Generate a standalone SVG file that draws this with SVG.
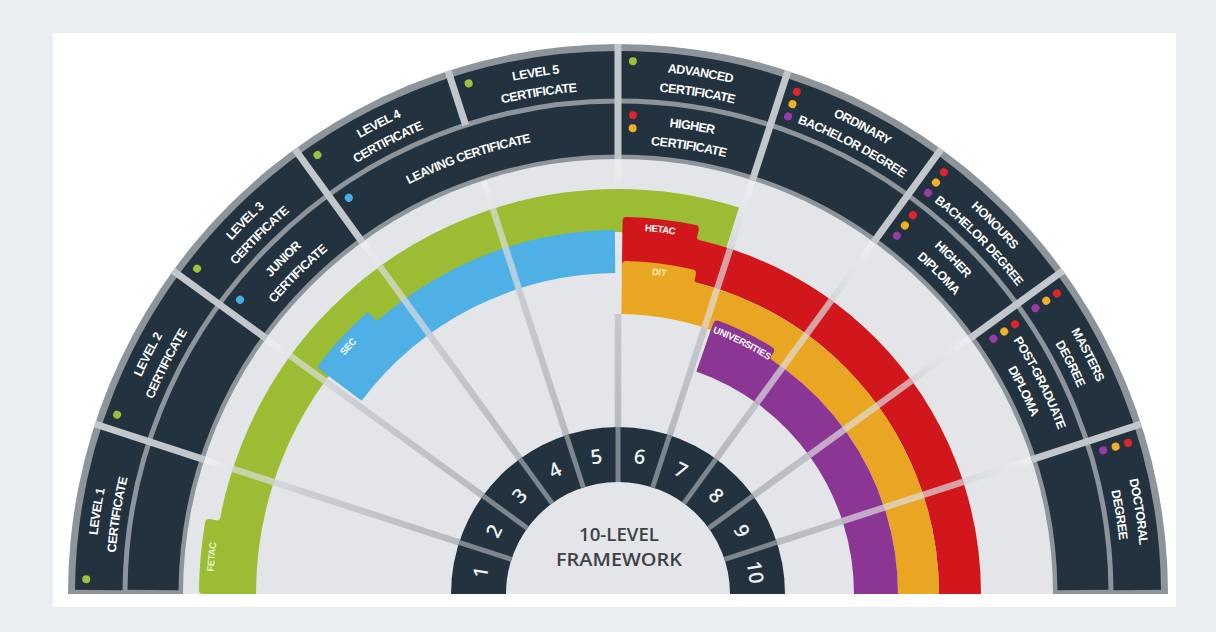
<svg xmlns="http://www.w3.org/2000/svg" width="1216" height="632" viewBox="0 0 1216 632">
<defs>
<style>
.lbl{font-family:"Liberation Sans",Arial,sans-serif;font-weight:bold;font-size:12.5px;fill:#ffffff;letter-spacing:-0.55px}
.tabl{font-family:"Liberation Sans",Arial,sans-serif;font-weight:bold;font-size:9.5px;fill:#ffffff;letter-spacing:-0.3px}
.num{font-family:"Open Sans","Liberation Sans",sans-serif;font-weight:600;font-size:20px;fill:#eef0f2}
.ctr{font-family:"Open Sans","Liberation Sans",sans-serif;font-weight:600;font-size:18px;fill:#3b4248}
.div{stroke:#c3c7cb;stroke-width:7}
.spoke{stroke:url(#sg);stroke-width:6.5}
.ov{stroke:#dcdde0;stroke-opacity:0.7;stroke-width:6.5}
.idiv{stroke:#7d868d;stroke-width:5}
.dg{fill:#9cc23a}.db{fill:#4aaee6}.dr{fill:#e0242a}.do{fill:#f0b02a}.dp{fill:#9a3aa8}
</style>
<radialGradient id="sg" gradientUnits="userSpaceOnUse" cx="618" cy="594" r="434">
<stop offset="0.38" stop-color="#b6babf"/>
<stop offset="0.75" stop-color="#cacdd1"/>
<stop offset="1" stop-color="#eceef0"/>
</radialGradient>
<path id="a524" d="M94 594A524 524 0 0 1 1142 594"/>
<path id="a504" d="M114 594A504 504 0 0 1 1122 594"/>
<path id="a470" d="M148 594A470 470 0 0 1 1088 594"/>
<path id="a450" d="M168 594A450 450 0 0 1 1068 594"/>
<path id="a460" d="M158 594A460 460 0 0 1 1078 594"/>
<path id="a405" d="M213 594A405 405 0 0 1 1023 594"/>
<path id="a363" d="M255 594A363 363 0 0 1 981 594"/>
<path id="a364" d="M254 594A364 364 0 0 1 982 594"/>
<path id="a321" d="M297 594A321 321 0 0 1 939 594"/>
<path id="a278" d="M340 594A278 278 0 0 1 896 594"/>
</defs>

<g id="background">
<rect x="0" y="0" width="1216" height="632" fill="#ebeef1"/>
<rect x="53" y="33" width="1123" height="574" fill="#ffffff"/>
</g>

<g id="outer-ring">
<path d="M68 594A550 550 0 0 1 1168 594Z" fill="#8d949a"/>
<path d="M98.75 594A519.25 519.25 0 0 1 1137.25 594" pathLength="180" fill="none" stroke="#22323e" stroke-width="47.5" stroke-dasharray="179.1 200" stroke-dashoffset="-0.45"/>
<path d="M153 594A465 465 0 0 1 1083 594" pathLength="180" fill="none" stroke="#22323e" stroke-width="51" stroke-dasharray="179 200" stroke-dashoffset="-0.5"/>
<path d="M183 594A435 435 0 0 1 1053 594Z" fill="#e4e5e8"/>
<g class="div">
<line x1="183" y1="594" x2="68" y2="594" transform="rotate(18 618 594)"/>
<line x1="183" y1="594" x2="68" y2="594" transform="rotate(36 618 594)"/>
<line x1="183" y1="594" x2="68" y2="594" transform="rotate(54 618 594)"/>
<line x1="125" y1="594" x2="68" y2="594" transform="rotate(72 618 594)"/>
<line x1="183" y1="594" x2="68" y2="594" transform="rotate(90 618 594)"/>
<line x1="183" y1="594" x2="68" y2="594" transform="rotate(108 618 594)"/>
<line x1="183" y1="594" x2="68" y2="594" transform="rotate(126 618 594)"/>
<line x1="183" y1="594" x2="68" y2="594" transform="rotate(144 618 594)"/>
<line x1="183" y1="594" x2="68" y2="594" transform="rotate(162 618 594)"/>
</g>
</g>

<g id="connectors">
<g class="spoke">
<line x1="451" y1="594" x2="184" y2="594" transform="rotate(18 618 594)"/>
<line x1="451" y1="594" x2="184" y2="594" transform="rotate(36 618 594)"/>
<line x1="451" y1="594" x2="184" y2="594" transform="rotate(54 618 594)"/>
<line x1="451" y1="594" x2="184" y2="594" transform="rotate(72 618 594)"/>
<line x1="451" y1="594" x2="338" y2="594" transform="rotate(90 618 594)"/>
<line x1="213" y1="594" x2="184" y2="594" transform="rotate(90 618 594)"/>
<line x1="451" y1="594" x2="184" y2="594" transform="rotate(108 618 594)"/>
<line x1="451" y1="594" x2="184" y2="594" transform="rotate(126 618 594)"/>
<line x1="451" y1="594" x2="184" y2="594" transform="rotate(144 618 594)"/>
<line x1="451" y1="594" x2="184" y2="594" transform="rotate(162 618 594)"/>
</g>
</g>

<g id="band-fetac">
<path d="M234.5 594A383.5 383.5 0 0 1 1001.5 594" pathLength="180" fill="none" stroke="#9cbc34" stroke-width="43" stroke-dasharray="107.4 200"/>
<path d="M618 191L618 179Q618 175 622 175A419 419 0 0 1 689.70 181.18Q693.64 181.88 692.92 185.82L691.65 192.70Q691.11 195.65 694.06 196.20L693.68 198.17A403 403 0 0 0 618 191Z" fill="#9cbc34" transform="rotate(-90 618 594)"/>
</g>
<g id="band-sec">
<path d="M275.5 594A342.5 342.5 0 0 1 960.5 594" pathLength="180" fill="none" stroke="#4eb0e5" stroke-width="43" stroke-dasharray="52.5 200" stroke-dashoffset="-37"/>
<path d="M618 232L618 221Q618 217 622 217A377 377 0 0 1 689.24 223.79Q693.16 224.57 692.37 228.49L691.17 234.37Q690.57 237.31 693.50 237.92L693.09 239.87A362 362 0 0 0 618 232Z" fill="#4eb0e5" transform="rotate(-53 618 594)"/>
</g>
<g id="band-hetac">
<path d="M276 594A342 342 0 0 1 960 594" pathLength="180" fill="none" stroke="#d1171c" stroke-width="42" stroke-dasharray="89.3 200" stroke-dashoffset="-90.7"/>
<path d="M618 233L618 221Q618 217 622 217A377 377 0 0 1 691.18 224.17Q695.10 224.97 694.28 228.88L692.85 235.73Q692.23 238.67 695.17 239.30L694.74 241.25A361 361 0 0 0 618 233Z" fill="#d1171c" transform="rotate(0.7 618 594)"/>
</g>
<g id="band-dit">
<path d="M317.5 594A300.5 300.5 0 0 1 918.5 594" pathLength="180" fill="none" stroke="#e9a622" stroke-width="41" stroke-dasharray="89.3 200" stroke-dashoffset="-90.7"/>
<path d="M618 275L618 265Q618 261 622 261A333 333 0 0 1 689.01 268.66Q692.91 269.53 692.01 273.43L690.88 278.30Q690.21 281.23 693.13 281.92L692.66 283.86A319 319 0 0 0 618 275Z" fill="#e9a622" transform="rotate(0.7 618 594)"/>
</g>
<g id="band-universities">
<path d="M360 594A258 258 0 0 1 876 594" pathLength="180" fill="none" stroke="#8b3594" stroke-width="44" stroke-dasharray="70.6 200" stroke-dashoffset="-109.4"/>
<path d="M618 316L618 307Q618 303 622 303A291 291 0 0 1 681.54 310.02Q685.44 310.92 684.51 314.81L683.59 318.70Q682.89 321.62 685.80 322.33L685.32 324.27A278 278 0 0 0 618 316Z" fill="#8b3594" transform="rotate(19.4 618 594)"/>
</g>

<g id="spoke-overlays" class="ov">
<line x1="256" y1="594" x2="213" y2="594" transform="rotate(18 618 594)"/>
<line x1="256" y1="594" x2="213" y2="594" transform="rotate(36 618 594)"/>
<line x1="297" y1="594" x2="213" y2="594" transform="rotate(54 618 594)"/>
<line x1="297" y1="594" x2="213" y2="594" transform="rotate(72 618 594)"/>
<line x1="338" y1="594" x2="255" y2="594" transform="rotate(108 618 594)"/>
<line x1="382" y1="594" x2="255" y2="594" transform="rotate(126 618 594)"/>
<line x1="382" y1="594" x2="255" y2="594" transform="rotate(144 618 594)"/>
<line x1="382" y1="594" x2="255" y2="594" transform="rotate(162 618 594)"/>
</g>

<g id="band-labels">
<text class="tabl" text-anchor="middle" style="fill:#eef2cf" transform="rotate(-84.8 618 594)"><textPath href="#a405" startOffset="50%">FETAC</textPath></text>
<text class="tabl" text-anchor="middle" transform="rotate(-47.5 618 594)"><textPath href="#a363" startOffset="50%">SEC</textPath></text>
<text class="tabl" text-anchor="middle" transform="rotate(6.6 618 594)"><textPath href="#a364" startOffset="50%">HETAC</textPath></text>
<text class="tabl" text-anchor="middle" style="fill:#fbebb8" transform="rotate(7.3 618 594)"><textPath href="#a321" startOffset="50%">DIT</textPath></text>
<text class="tabl" text-anchor="middle" transform="rotate(26.3 618 594)"><textPath href="#a278" startOffset="50%">UNIVERSITIES</textPath></text>
</g>

<g id="level-1-certificate">
<circle class="dg" cx="86" cy="594" r="4" transform="rotate(1.6 618 594)"/>
<text class="lbl" text-anchor="middle" transform="rotate(-81 618 594)"><textPath href="#a524" startOffset="50%">LEVEL 1</textPath></text>
<text class="lbl" text-anchor="middle" transform="rotate(-81 618 594)"><textPath href="#a504" startOffset="50%">CERTIFICATE</textPath></text>
</g>
<g id="level-2-certificate">
<circle class="dg" cx="86" cy="594" r="4" transform="rotate(19.7 618 594)"/>
<text class="lbl" text-anchor="middle" transform="rotate(-63 618 594)"><textPath href="#a524" startOffset="50%">LEVEL 2</textPath></text>
<text class="lbl" text-anchor="middle" transform="rotate(-63 618 594)"><textPath href="#a504" startOffset="50%">CERTIFICATE</textPath></text>
</g>
<g id="level-3-certificate">
<circle class="dg" cx="86" cy="594" r="4" transform="rotate(37.7 618 594)"/>
<text class="lbl" text-anchor="middle" transform="rotate(-45 618 594)"><textPath href="#a524" startOffset="50%">LEVEL 3</textPath></text>
<text class="lbl" text-anchor="middle" transform="rotate(-45 618 594)"><textPath href="#a504" startOffset="50%">CERTIFICATE</textPath></text>
</g>
<g id="junior-certificate">
<circle class="db" cx="139" cy="594" r="4" transform="rotate(37.9 618 594)"/>
<text class="lbl" text-anchor="middle" transform="rotate(-45 618 594)"><textPath href="#a470" startOffset="50%">JUNIOR</textPath></text>
<text class="lbl" text-anchor="middle" transform="rotate(-45 618 594)"><textPath href="#a450" startOffset="50%">CERTIFICATE</textPath></text>
</g>
<g id="level-4-certificate">
<circle class="dg" cx="86" cy="594" r="4" transform="rotate(55.6 618 594)"/>
<text class="lbl" text-anchor="middle" transform="rotate(-27 618 594)"><textPath href="#a524" startOffset="50%">LEVEL 4</textPath></text>
<text class="lbl" text-anchor="middle" transform="rotate(-27 618 594)"><textPath href="#a504" startOffset="50%">CERTIFICATE</textPath></text>
</g>
<g id="leaving-certificate">
<circle class="db" cx="139" cy="594" r="4" transform="rotate(55.8 618 594)"/>
<text class="lbl" text-anchor="middle" transform="rotate(-19 618 594)"><textPath href="#a460" startOffset="50%">LEAVING CERTIFICATE</textPath></text>
</g>
<g id="level-5-certificate">
<circle class="dg" cx="86" cy="594" r="4" transform="rotate(73.7 618 594)"/>
<text class="lbl" text-anchor="middle" transform="rotate(-9 618 594)"><textPath href="#a524" startOffset="50%">LEVEL 5</textPath></text>
<text class="lbl" text-anchor="middle" transform="rotate(-9 618 594)"><textPath href="#a504" startOffset="50%">CERTIFICATE</textPath></text>
</g>
<g id="advanced-certificate">
<circle class="dg" cx="85" cy="594" r="4" transform="rotate(91.6 618 594)"/>
<text class="lbl" text-anchor="middle" transform="rotate(9 618 594)"><textPath href="#a524" startOffset="50%">ADVANCED</textPath></text>
<text class="lbl" text-anchor="middle" transform="rotate(9 618 594)"><textPath href="#a504" startOffset="50%">CERTIFICATE</textPath></text>
</g>
<g id="higher-certificate">
<circle class="dr" cx="139" cy="594" r="4" transform="rotate(91.8 618 594)"/>
<circle class="do" cx="152" cy="594" r="4" transform="rotate(91.8 618 594)"/>
<text class="lbl" text-anchor="middle" transform="rotate(9 618 594)"><textPath href="#a470" startOffset="50%">HIGHER</textPath></text>
<text class="lbl" text-anchor="middle" transform="rotate(9 618 594)"><textPath href="#a450" startOffset="50%">CERTIFICATE</textPath></text>
</g>
<g id="ordinary-bachelor-degree">
<circle class="dr" cx="85" cy="594" r="4" transform="rotate(109.6 618 594)"/>
<circle class="do" cx="98" cy="594" r="4" transform="rotate(109.6 618 594)"/>
<circle class="dp" cx="111" cy="594" r="4" transform="rotate(109.6 618 594)"/>
<text class="lbl" text-anchor="middle" transform="rotate(27.6 618 594)"><textPath href="#a524" startOffset="50%">ORDINARY</textPath></text>
<text class="lbl" text-anchor="middle" transform="rotate(27.6 618 594)"><textPath href="#a504" startOffset="50%">BACHELOR DEGREE</textPath></text>
</g>
<g id="honours-bachelor-degree">
<circle class="dr" cx="85" cy="594" r="4" transform="rotate(127.7 618 594)"/>
<circle class="do" cx="98" cy="594" r="4" transform="rotate(127.7 618 594)"/>
<circle class="dp" cx="111" cy="594" r="4" transform="rotate(127.7 618 594)"/>
<text class="lbl" text-anchor="middle" transform="rotate(45.6 618 594)"><textPath href="#a524" startOffset="50%">HONOURS</textPath></text>
<text class="lbl" text-anchor="middle" transform="rotate(45.6 618 594)"><textPath href="#a504" startOffset="50%">BACHELOR DEGREE</textPath></text>
</g>
<g id="higher-diploma">
<circle class="dr" cx="138" cy="594" r="4" transform="rotate(127.9 618 594)"/>
<circle class="do" cx="151" cy="594" r="4" transform="rotate(127.9 618 594)"/>
<circle class="dp" cx="164" cy="594" r="4" transform="rotate(127.9 618 594)"/>
<text class="lbl" text-anchor="middle" transform="rotate(45 618 594)"><textPath href="#a470" startOffset="50%">HIGHER</textPath></text>
<text class="lbl" text-anchor="middle" transform="rotate(45 618 594)"><textPath href="#a450" startOffset="50%">DIPLOMA</textPath></text>
</g>
<g id="masters-degree">
<circle class="dr" cx="86" cy="594" r="4" transform="rotate(145.6 618 594)"/>
<circle class="do" cx="99" cy="594" r="4" transform="rotate(145.6 618 594)"/>
<circle class="dp" cx="112" cy="594" r="4" transform="rotate(145.6 618 594)"/>
<text class="lbl" text-anchor="middle" transform="rotate(63 618 594)"><textPath href="#a524" startOffset="50%">MASTERS</textPath></text>
<text class="lbl" text-anchor="middle" transform="rotate(63 618 594)"><textPath href="#a504" startOffset="50%">DEGREE</textPath></text>
</g>
<g id="post-graduate-diploma">
<circle class="dr" cx="138" cy="594" r="4" transform="rotate(145.8 618 594)"/>
<circle class="do" cx="151" cy="594" r="4" transform="rotate(145.8 618 594)"/>
<circle class="dp" cx="164" cy="594" r="4" transform="rotate(145.8 618 594)"/>
<text class="lbl" text-anchor="middle" transform="rotate(63.4 618 594)"><textPath href="#a470" startOffset="50%">POST-GRADUATE</textPath></text>
<text class="lbl" text-anchor="middle" transform="rotate(63.4 618 594)"><textPath href="#a450" startOffset="50%">DIPLOMA</textPath></text>
</g>
<g id="doctoral-degree">
<circle class="dr" cx="86" cy="594" r="4" transform="rotate(163.5 618 594)"/>
<circle class="do" cx="99" cy="594" r="4" transform="rotate(163.5 618 594)"/>
<circle class="dp" cx="112" cy="594" r="4" transform="rotate(163.5 618 594)"/>
<text class="lbl" text-anchor="middle" transform="rotate(81 618 594)"><textPath href="#a524" startOffset="50%">DOCTORAL</textPath></text>
<text class="lbl" text-anchor="middle" transform="rotate(81 618 594)"><textPath href="#a504" startOffset="50%">DEGREE</textPath></text>
</g>

<g id="framework">
<path d="M478.5 594A139.5 139.5 0 0 1 757.5 594" fill="none" stroke="#22323e" stroke-width="55"/>
<g class="idiv">
<line x1="506" y1="594" x2="451" y2="594" transform="rotate(18 618 594)"/>
<line x1="506" y1="594" x2="451" y2="594" transform="rotate(36 618 594)"/>
<line x1="506" y1="594" x2="451" y2="594" transform="rotate(54 618 594)"/>
<line x1="506" y1="594" x2="451" y2="594" transform="rotate(72 618 594)"/>
<line x1="506" y1="594" x2="451" y2="594" transform="rotate(90 618 594)"/>
<line x1="506" y1="594" x2="451" y2="594" transform="rotate(108 618 594)"/>
<line x1="506" y1="594" x2="451" y2="594" transform="rotate(126 618 594)"/>
<line x1="506" y1="594" x2="451" y2="594" transform="rotate(144 618 594)"/>
<line x1="506" y1="594" x2="451" y2="594" transform="rotate(162 618 594)"/>
</g>
<g class="num" text-anchor="middle">
<text x="618" y="462" transform="rotate(-81 618 594)">1</text>
<text x="618" y="462" transform="rotate(-63 618 594)">2</text>
<text x="618" y="462" transform="rotate(-45 618 594)">3</text>
<text x="618" y="462" transform="rotate(-27 618 594)">4</text>
<text x="618" y="462" transform="rotate(-9 618 594)">5</text>
<text x="618" y="462" transform="rotate(9 618 594)">6</text>
<text x="618" y="462" transform="rotate(27 618 594)">7</text>
<text x="618" y="462" transform="rotate(45 618 594)">8</text>
<text x="618" y="462" transform="rotate(63 618 594)">9</text>
<text x="618" y="462" transform="rotate(81 618 594)">10</text>
</g>
<text class="ctr" x="619" y="541" text-anchor="middle" textLength="80" lengthAdjust="spacingAndGlyphs">10-LEVEL</text>
<text class="ctr" x="619" y="566" text-anchor="middle" textLength="126" lengthAdjust="spacingAndGlyphs">FRAMEWORK</text>
</g>
</svg>
